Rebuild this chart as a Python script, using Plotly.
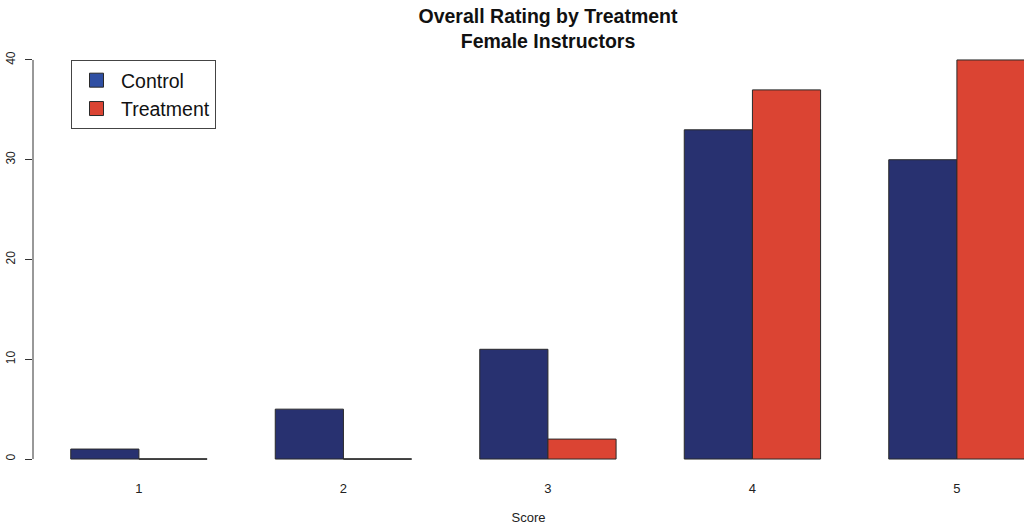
import plotly.graph_objects as go

scores = [1, 2, 3, 4, 5]
score_labels = ["1", "2", "3", "4", "5"]
control = [1, 5, 11, 33, 30]
treatment = [0, 0, 2, 37, 40]
y_ticks = [0, 10, 20, 30, 40]

BAR_CONTROL = "#283170"
BAR_TREAT = "#DB4433"
LEG_CONTROL = "#2F4FA3"
LEG_TREAT = "#DB4433"
EDGE = "#2a2a2a"
FONT = "Liberation Sans, Arial, Helvetica, sans-serif"

fig = go.Figure()
fig.add_trace(go.Bar(x=scores, y=control, name="Control", marker=dict(color=BAR_CONTROL, line=dict(color=EDGE, width=1)), showlegend=False))
fig.add_trace(go.Bar(x=scores, y=treatment, name="Treatment", marker=dict(color=BAR_TREAT, line=dict(color=EDGE, width=1)), showlegend=False))

# legend entries (R legend fill colours)
fig.add_trace(go.Scatter(x=[None], y=[None], mode="markers", name="Control",
                         marker=dict(symbol="square", size=14, color=LEG_CONTROL, line=dict(color=EDGE, width=1))))
fig.add_trace(go.Scatter(x=[None], y=[None], mode="markers", name="Treatment",
                         marker=dict(symbol="square", size=14, color=LEG_TREAT, line=dict(color=EDGE, width=1))))

shapes = []
# zero-height bars drawn as outlines at baseline
bar_w = 1 / 3
for s, v in zip(scores, control):
    if v == 0:
        shapes.append(dict(type="line", xref="x", yref="y", x0=s - bar_w, x1=s, y0=0, y1=0, line=dict(color=EDGE, width=1)))
for s, v in zip(scores, treatment):
    if v == 0:
        shapes.append(dict(type="line", xref="x", yref="y", x0=s, x1=s + bar_w, y0=0, y1=0, line=dict(color=EDGE, width=1)))
# y axis line spanning first to last tick (R style)
shapes.append(dict(type="line", xref="paper", yref="y", x0=0, x1=0, y0=y_ticks[0], y1=y_ticks[-1], line=dict(color="#333", width=1)))

fig.update_layout(
    width=1024, height=529,
    margin=dict(l=33, r=0, t=44, b=54),
    paper_bgcolor="white", plot_bgcolor="white",
    barmode="group", bargap=1/3, bargroupgap=0,
    font=dict(family=FONT, color="#222"),
    title=dict(text="<b>Overall Rating by Treatment<br>Female Instructors</b>",
               x=548/1024, xref="container", xanchor="center",
               y=1 - 23/529, yref="container", yanchor="middle",
               font=dict(size=19.5, color="#111", family=FONT)),
    xaxis=dict(range=[0.482, 5.328], tickvals=scores, ticktext=score_labels,
               showgrid=False, zeroline=False, showline=False, automargin=False,
               ticks="outside", ticklen=1, tickcolor="rgba(0,0,0,0)",
               tickfont=dict(size=13, color="#222"),
               title=dict(text="Score", font=dict(size=13, color="#222"), standoff=18)),
    yaxis=dict(range=[-1.6, 41.6], tickvals=y_ticks, ticktext=[str(t) for t in y_ticks],
               showgrid=False, zeroline=False, showline=False, automargin=False,
               ticks="outside", ticklen=7, tickcolor="#333", tickangle=-90,
               ticklabelstandoff=5,
               tickfont=dict(size=12, color="#222")),
    legend=dict(x=(71 - 33) / 991, y=1 - 16 / 431, xanchor="left", yanchor="top",
                bgcolor="white", bordercolor="#444", borderwidth=1, itemwidth=39,
                font=dict(size=19.5, color="#111", family=FONT)),
    shapes=shapes,
)

fig.write_html("out.html", config={"displayModeBar": False},
               post_script="document.body.style.margin='0';")
